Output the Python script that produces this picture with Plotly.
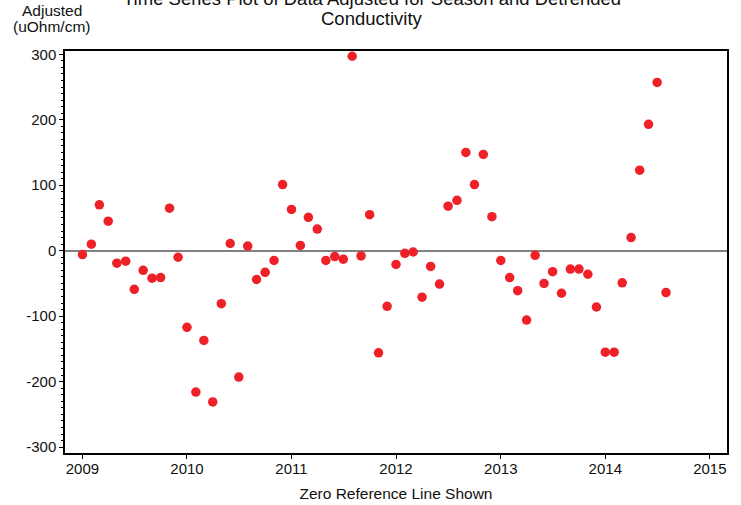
import plotly.graph_objects as go

months = (
    [f"2009-{m:02d}-01" for m in range(1, 13)]
    + [f"2010-{m:02d}-01" for m in range(1, 13)]
    + [f"2011-{m:02d}-01" for m in range(1, 13)]
    + [f"2012-{m:02d}-01" for m in range(1, 13)]
    + [f"2013-{m:02d}-01" for m in range(1, 13)]
    + [f"2014-{m:02d}-01" for m in range(1, 9)]
)

adjusted = [
    -6, 10, 70, 45, -19, -16, -59, -30, -42, -41, 65, -10,
    -117, -216, -137, -231, -81, 11, -193, 7, -44, -33, -15, 101,
    63, 8, 51, 33, -15, -9, -13, 297, -8, 55, -156, -85,
    -21, -4, -2, -71, -24, -51, 68, 77, 150, 101, 147, 52,
    -15, -41, -61, -106, -7, -50, -32, -65, -28, -28, -36, -86,
    -155, -155, -49, 20, 123, 193, 257, -64,
]

y_tickvals = [-300, -200, -100, 0, 100, 200, 300]
y_ticktext = ["-300", "-200", "-100", "0", "100", "200", "300"]

title_lines = ["Time Series Plot of Data Adjusted for Season and Detrended", "Conductivity"]
y_title_lines = ["Adjusted", "(uOhm/cm)"]
x_title = "Zero Reference Line Shown"

font_family = "Liberation Sans, Arial, sans-serif"

fig = go.Figure()
fig.add_trace(go.Scatter(
    x=months, y=adjusted, mode="markers",
    marker=dict(color="#EE2128", size=9.5, line=dict(width=0)),
    showlegend=False,
))

annotations = [
    dict(text=title_lines[0], x=0.463, y=1.130),
    dict(text=title_lines[1], x=0.463, y=1.080),
    dict(text=y_title_lines[0], x=-0.019, y=1.100, font=dict(size=15.5, color="#111")),
    dict(text=y_title_lines[1], x=-0.019, y=1.060, font=dict(size=15.5, color="#111")),
]
for a in annotations:
    a.update(xref="paper", yref="paper", xanchor="center", yanchor="middle", showarrow=False)
    a.setdefault("font", dict(size=18.5, color="#111"))

fig.update_layout(
    width=741, height=505,
    margin=dict(l=65, r=14, t=51, b=52, autoexpand=False),
    paper_bgcolor="white", plot_bgcolor="white",
    font=dict(family=font_family, size=15, color="#111"),
    annotations=annotations,
)

fig.update_xaxes(
    type="date", range=["2008-11-01", "2015-03-02"], automargin=False,
    tick0="2009-01-01", dtick="M12", tickformat="%Y",
    ticks="outside", ticklen=4, tickwidth=1, tickcolor="#000",
    ticklabelstandoff=-3,
    showline=True, linecolor="#000", linewidth=1.5, mirror=True,
    showgrid=False, zeroline=False,
    title=dict(text=x_title, standoff=12, font=dict(size=15.5)),
)

fig.update_yaxes(
    range=[-309, 305], tickmode="array", tickvals=y_tickvals, ticktext=y_ticktext,
    automargin=False,
    ticks="outside", ticklen=4, tickwidth=1, tickcolor="#000",
    minor=dict(tickmode="linear", tick0=0, dtick=10, ticks="outside", ticklen=2.5,
               tickcolor="#000", showgrid=False),
    showline=True, linecolor="#000", linewidth=1.5, mirror=True,
    showgrid=False,
    zeroline=True, zerolinecolor="#808080", zerolinewidth=1.5,
)

fig.write_html("out.html", config={"displayModeBar": False},
               post_script="document.body.style.margin='0';")
